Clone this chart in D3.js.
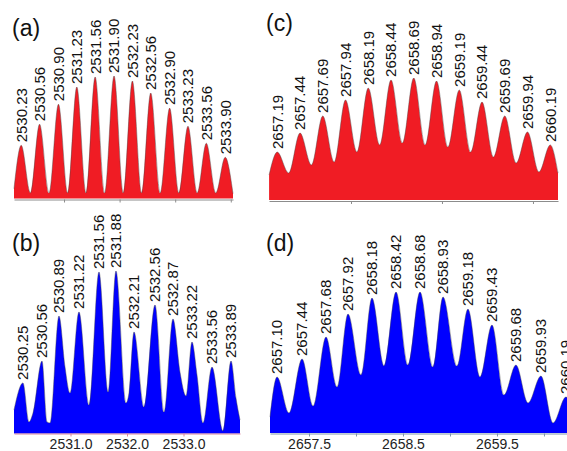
<!DOCTYPE html>
<html lang="en">
<head>
    <meta charset="UTF-8">
    <title>Isotope envelopes</title>
    <script src="https://cdnjs.cloudflare.com/ajax/libs/d3/7.8.5/d3.min.js"></script>
    <style>
        body {
            margin: 0;
            background: #fff;
        }
        svg {
            display: block;
            font-family: "Liberation Sans", Arial, sans-serif;
        }
        .peak-label {
            font-size: 15px;
            fill: #111;
        }
        .panel-title {
            font-size: 23px;
            fill: #111;
        }
        .axis text {
            font-size: 14px;
            fill: #222;
        }
    </style>
</head>
<body>
    <div id="container"></div>

    <script>
        // Data: [m/z, relative intensity, peak label]
        const profileA = [
            [2530.10, 8],
            [2530.23, 43.4, "2530.23"], [2530.395, 4.5],
            [2530.56, 60.7, "2530.56"], [2530.73, 4.5],
            [2530.90, 77.0, "2530.90"], [2531.065, 4.5],
            [2531.23, 91.0, "2531.23"], [2531.395, 4.5],
            [2531.56, 99.2, "2531.56"], [2531.73, 4.5],
            [2531.90, 100, "2531.90"], [2532.065, 4.5],
            [2532.23, 95.9, "2532.23"], [2532.395, 4.5],
            [2532.56, 86.1, "2532.56"], [2532.73, 4.5],
            [2532.90, 73.8, "2532.90"], [2533.065, 4.5],
            [2533.23, 59.0, "2533.23"], [2533.395, 4.5],
            [2533.56, 45.1, "2533.56"], [2533.73, 4.5],
            [2533.90, 33.6, "2533.90"], [2534.04, 4]
        ];

        const profileB = [
            [2530.00, 14.5],
            [2530.159, 31.1, "2530.25"], [2530.265, 7.1], [2530.336, 12.6],
            [2530.496, 44.6, "2530.56"], [2530.584, 7.1], [2530.637, 6.5],
            [2530.796, 72.3, "2530.89"], [2530.903, 40.9], [2530.991, 24.9],
            [2531.150, 74.8, "2531.22"], [2531.327, 17.5],
            [2531.504, 99.4, "2531.56"], [2531.664, 25.5],
            [2531.805, 100, "2531.88"], [2531.982, 18.8], [2532.035, 24.9],
            [2532.124, 62.5, "2532.21"], [2532.301, 16.3],
            [2532.496, 79.1, "2532.56"], [2532.655, 13.2],
            [2532.814, 70.5, "2532.87"], [2532.938, 37.8], [2533.044, 23.1],
            [2533.150, 56.3, "2533.22"], [2533.239, 36.0], [2533.345, 6.5],
            [2533.504, 40.9, "2533.56"], [2533.699, 1.5],
            [2533.841, 44.6, "2533.89"], [2533.929, 21.8], [2534.00, 8.3]
        ];

        const profileC = [
            [2657.10, 20.5],
            [2657.19, 39.3, "2657.19"], [2657.315, 22.1],
            [2657.44, 54.9, "2657.44"], [2657.565, 28.7],
            [2657.69, 68.9, "2657.69"], [2657.815, 31.1],
            [2657.94, 82.0, "2657.94"], [2658.065, 39.3],
            [2658.19, 91.8, "2658.19"], [2658.315, 45.1],
            [2658.44, 98.4, "2658.44"], [2658.565, 46.7],
            [2658.69, 100, "2658.69"], [2658.815, 45.1],
            [2658.94, 97.5, "2658.94"], [2659.065, 43.4],
            [2659.19, 90.2, "2659.19"], [2659.315, 39.3],
            [2659.44, 80.3, "2659.44"], [2659.565, 35.2],
            [2659.69, 68.9, "2659.69"], [2659.815, 30.3],
            [2659.94, 55.7, "2659.94"], [2660.065, 23.0],
            [2660.19, 45.1, "2660.19"], [2660.275, 22.1]
        ];

        const profileD = [
            [2657.085, 11.3],
            [2657.160, 39.7, "2657.10"], [2657.287, 14.2],
            [2657.426, 52.5, "2657.44"], [2657.543, 19.1],
            [2657.681, 68.1, "2657.68"], [2657.798, 32.6],
            [2657.915, 84.4, "2657.92"], [2658.053, 41.1],
            [2658.170, 95.7, "2658.18"], [2658.298, 47.5],
            [2658.426, 100, "2658.42"], [2658.553, 48.2],
            [2658.681, 100, "2658.68"], [2658.819, 46.8],
            [2658.926, 96.5, "2658.93"], [2659.074, 47.5],
            [2659.191, 87.9, "2659.18"], [2659.319, 39.7],
            [2659.447, 76.6, "2659.43"], [2659.574, 27.0],
            [2659.702, 48.2, "2659.68"], [2659.830, 21.3],
            [2659.968, 40.4, "2659.93"], [2660.096, 7.1],
            [2660.234, 25.5, "2660.19"], [2660.32, 12]
        ];

        // Axis ticks
        const ticksA = [2531, 2532, 2533, 2534];
        const ticksB = [2531, 2532, 2533];
        const ticksC = [2658, 2659, 2660];
        const ticksD = [2657.5, 2658, 2658.5, 2659, 2659.5, 2660];
        const tickLabelsB = ["2531.0", "2532.0", "2533.0"];
        const tickLabelsD = ["2657.5", "2658.5", "2659.5"];

        // Layout
        const width = 567;
        const height = 451;

        const panels = [
            { title: "(a)", data: profileA, domain: [2530.10, 2534.04], range: [14, 233],
              base: 198.5, top: 76, axisY: 199.5, fill: "#f01c24", axisColor: "#8c8c8c",
              ticks: ticksA, tickLabels: null, titleX: 12, titleY: 36 },
            { title: "(b)", data: profileB, domain: [2530.0, 2534.0], range: [14, 240],
              base: 433.5, top: 271, axisY: 433.5, fill: "#0000ff", axisColor: "#d9849c",
              ticks: ticksB, tickLabels: tickLabelsB, titleX: 12, titleY: 251 },
            { title: "(c)", data: profileC, domain: [2657.099, 2660.275], range: [269, 558],
              base: 200, top: 78, axisY: 201, fill: "#f01c24", axisColor: "#8c8c8c",
              ticks: ticksC, tickLabels: null, titleX: 266, titleY: 31 },
            { title: "(d)", data: profileD, domain: [2657.085, 2660.245], range: [270, 567],
              base: 433, top: 292, axisY: 433.5, fill: "#0000ff", axisColor: "#7f95aa",
              ticks: ticksD, tickLabels: tickLabelsD, titleX: 266, titleY: 251 }
        ];

        const svg = d3.select("#container")
            .append("svg")
            .attr("width", width)
            .attr("height", height);

        svg.append("rect")
            .attr("width", width)
            .attr("height", height)
            .attr("fill", "#fff");

        function drawPanel(p) {
            const g = svg.append("g");

            const x = d3.scaleLinear().domain(p.domain).range(p.range);
            const y = d3.scaleLinear().domain([0, 100]).range([p.base, p.top]);

            const area = d3.area()
                .x(d => x(d[0]))
                .y0(p.base)
                .y1(d => y(d[1]))
                .curve(d3.curveMonotoneX);

            const line = d3.line()
                .x(d => x(d[0]))
                .y(d => y(d[1]))
                .curve(d3.curveMonotoneX);

            g.append("path")
                .datum(p.data)
                .attr("d", area)
                .attr("fill", p.fill);

            g.append("path")
                .datum(p.data)
                .attr("d", line)
                .attr("fill", "none")
                .attr("stroke", "#444")
                .attr("stroke-opacity", 0.55)
                .attr("stroke-width", 0.8);

            // Axis
            const axis = d3.axisBottom(x)
                .tickValues(p.ticks)
                .tickSize(3)
                .tickSizeOuter(0)
                .tickFormat(d => {
                    if (!p.tickLabels) return "";
                    const s = d.toFixed(1);
                    return p.tickLabels.includes(s) ? s : "";
                });

            const ax = g.append("g")
                .attr("class", "axis")
                .attr("transform", `translate(0,${p.axisY})`)
                .call(axis);

            ax.select(".domain").attr("stroke", p.axisColor).attr("stroke-width", 1.2);
            ax.selectAll(".tick line").attr("stroke", p.axisColor);
            ax.selectAll(".tick text").attr("font-family", null);

            // Peak labels
            g.selectAll(".peak-label")
                .data(p.data.filter(d => d[2]))
                .enter().append("text")
                .attr("class", "peak-label")
                .attr("transform", d => `translate(${x(d[0])},${y(d[1]) - 3}) rotate(-90)`)
                .attr("dy", "0.36em")
                .text(d => d[2]);

            g.append("text")
                .attr("class", "panel-title")
                .attr("x", p.titleX)
                .attr("y", p.titleY)
                .text(p.title);
        }

        panels.forEach(drawPanel);
    </script>
</body>
</html>
